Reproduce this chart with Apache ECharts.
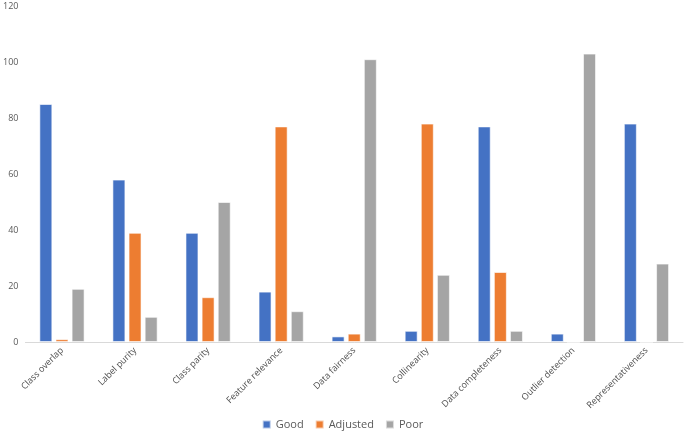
<!DOCTYPE html>
<html><head><meta charset="utf-8">
<script src="https://cdn.jsdelivr.net/npm/echarts@6/dist/echarts.min.js"></script>
<style>html,body{margin:0;padding:0;background:#fff}#c{width:685px;height:432px}</style>
</head><body><div id="c"></div>
<script>
var categories = ['Class overlap','Label purity','Class parity','Feature relevance','Data fairness','Collinearity','Data completeness','Outlier detection','Representativeness'];
var good = [85, 58, 39, 18, 2, 4, 77, 3, 78];
var adjusted = [1, 39, 16, 77, 3, 78, 25, 0, 0];
var poor = [19, 9, 50, 11, 101, 24, 4, 103, 28];
var yTicks = {min: 0, max: 120, interval: 20};

var font = 'Open Sans, Liberation Sans, sans-serif';
var chart = echarts.init(document.getElementById('c'));
function s(name, data, color) {
  return {name: name, type: 'bar', data: data, barWidth: 13, barGap: '24%',
    itemStyle: {color: color, borderColor: 'rgba(255,255,255,0.6)', borderWidth: 1}};
}
chart.setOption({
  animation: false,
  textStyle: {fontFamily: font},
  grid: {left: 23, right: 2, top: 6, bottom: 90, containLabel: false},
  legend: {bottom: -3, left: 'center', itemWidth: 8, itemHeight: 8, itemGap: 11,
    icon: 'rect', textStyle: {fontSize: 11, color: '#595959', fontFamily: font}},
  xAxis: {type: 'category', data: categories,
    axisLine: {lineStyle: {color: '#d9d9d9', width: 1}}, axisTick: {show: false},
    axisLabel: {rotate: 45, fontSize: 9, color: '#4d4d4d', margin: 7, interval: 0}},
  yAxis: {type: 'value', min: yTicks.min, max: yTicks.max, interval: yTicks.interval,
    splitLine: {show: false}, axisLine: {show: false}, axisTick: {show: false},
    axisLabel: {fontSize: 9, color: '#595959', margin: 7}},
  series: [s('Good', good, '#4472C4'), s('Adjusted', adjusted, '#ED7D31'), s('Poor', poor, '#A5A5A5')]
});
</script></body></html>
